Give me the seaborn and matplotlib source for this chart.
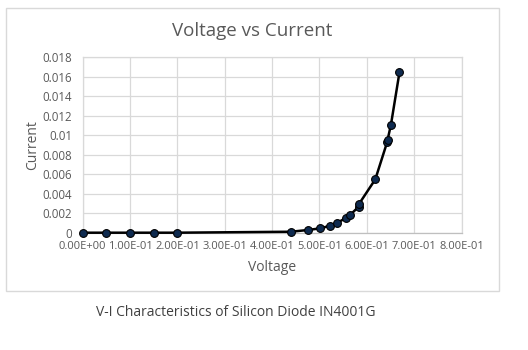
import matplotlib
matplotlib.use("Agg")
import matplotlib.pyplot as plt
import seaborn as sns
import pandas as pd
from matplotlib.patches import Rectangle
from matplotlib.ticker import FixedLocator, FixedFormatter

# Measured forward-bias readings of the diode
voltage = [0.0, 0.05, 0.10, 0.15, 0.20, 0.44, 0.476, 0.502, 0.523, 0.537,
           0.557, 0.564, 0.583, 0.584, 0.618, 0.643, 0.644, 0.651, 0.669]
current = [0.0, 0.0, 0.0, 0.0, 0.0, 0.0001, 0.00028, 0.00045, 0.00072, 0.0010,
           0.00154, 0.00179, 0.00267, 0.00298, 0.00548, 0.0093, 0.00955, 0.01108, 0.01646]

x_ticks = [0.0, 0.1, 0.2, 0.3, 0.4, 0.5, 0.6, 0.7, 0.8]
x_tick_labels = ["0.00E+00", "1.00E-01", "2.00E-01", "3.00E-01", "4.00E-01",
                 "5.00E-01", "6.00E-01", "7.00E-01", "8.00E-01"]
y_ticks = [0.0, 0.002, 0.004, 0.006, 0.008, 0.010, 0.012, 0.014, 0.016, 0.018]
y_tick_labels = ["0", "0.002", "0.004", "0.006", "0.008", "0.01", "0.012",
                 "0.014", "0.016", "0.018"]

df = pd.DataFrame({"Voltage": voltage, "Current": current})

sns.set_theme(style="white")
plt.rcParams["font.family"] = ["Open Sans", "DejaVu Sans"]

W, H = 528, 350
fig = plt.figure(figsize=(W / 100, H / 100), dpi=100)
fig.patch.set_facecolor("white")

# chart frame
fig.add_artist(Rectangle((6 / W, 1 - 291 / H), (499 - 6) / W, (291 - 8) / H,
                         transform=fig.transFigure, fill=False,
                         edgecolor="#d9d9d9", linewidth=1.0))

left, right, top, bottom = 82.7, 461.5, 57.3, 232.7
ax = fig.add_axes([left / W, 1 - bottom / H, (right - left) / W, (bottom - top) / H])

sns.lineplot(data=df, x="Voltage", y="Current", ax=ax, estimator=None, sort=False,
             color="black", linewidth=1.8, marker="o", markersize=5.6,
             markerfacecolor="#0e2a4f", markeredgecolor="black", markeredgewidth=0.8,
             zorder=3, clip_on=False)

ax.set_xlim(0, 0.8)
ax.set_ylim(0, 0.018)
ax.xaxis.set_major_locator(FixedLocator(x_ticks))
ax.xaxis.set_major_formatter(FixedFormatter(x_tick_labels))
ax.yaxis.set_major_locator(FixedLocator(y_ticks))
ax.yaxis.set_major_formatter(FixedFormatter(y_tick_labels))

ax.grid(True, color="#d9d9d9", linewidth=0.9)
ax.set_axisbelow(True)
for s in ax.spines.values():
    s.set_color("#d9d9d9")
    s.set_linewidth(0.9)
ax.spines["bottom"].set_color("#bfbfbf")

ax.tick_params(axis="x", length=0, colors="#595959", labelsize=8.0, pad=6)
ax.tick_params(axis="y", length=0, colors="#595959", labelsize=8.3, pad=7.5)

ax.set_xlabel("Voltage", color="#595959", fontsize=10, labelpad=6)
ax.set_ylabel("Current", color="#595959", fontsize=10, labelpad=2)

fig.text(252 / W, 1 - 31 / H, "Voltage vs Current", ha="center", va="center",
         color="#595959", fontsize=13.5)

fig.text(96 / W, 1 - 313 / H, "V-I Characteristics of Silicon Diode IN4001G",
         ha="left", va="center", color="#404040", fontsize=10)

fig.savefig("out.png", dpi=100, facecolor="white")
